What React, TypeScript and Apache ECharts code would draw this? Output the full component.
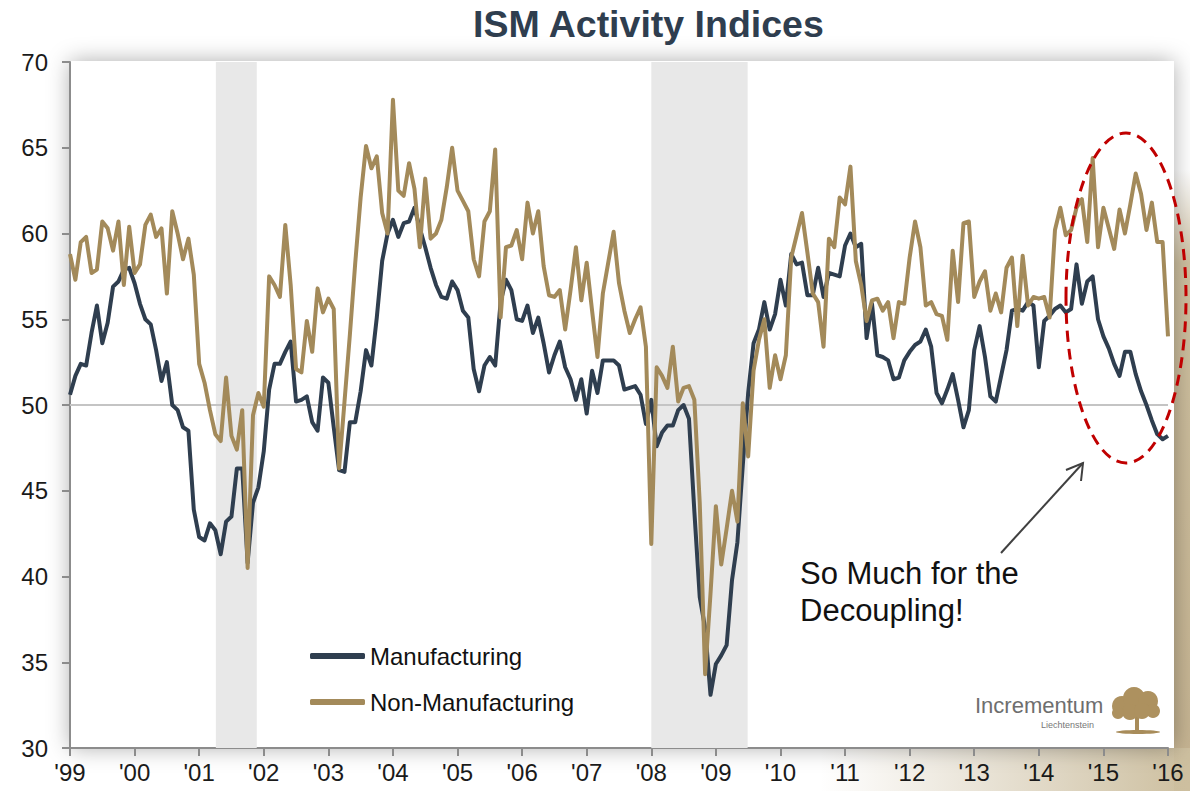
import React, { useEffect, useRef } from 'react';
import * as echarts from 'echarts';

// Tick labels for the x axis (one per January, Jan 1999 = month index 0)
const yearLabels = ["'99", "'00", "'01", "'02", "'03", "'04", "'05", "'06", "'07", "'08", "'09", "'10", "'11", "'12", "'13", "'14", "'15", "'16"];

// ISM Manufacturing, monthly Jan 1999 .. Jan 2016
const manufacturing = [
  50.6, 51.7, 52.4, 52.3, 54.2, 55.8, 53.6, 54.8, 56.9, 57.2, 57.9, 58.0,
  57.1, 55.9, 55.0, 54.7, 53.2, 51.4, 52.5, 50.0, 49.7, 48.7, 48.5, 43.9,
  42.3, 42.1, 43.1, 42.7, 41.3, 43.2, 43.5, 46.3, 46.3, 40.8, 44.3, 45.2,
  47.3, 50.9, 52.4, 52.4, 53.1, 53.7, 50.2, 50.3, 50.5, 49.0, 48.5, 51.6,
  51.3, 48.7, 46.2, 46.1, 49.0, 49.0, 50.8, 53.2, 52.3, 55.1, 58.4, 60.0,
  60.8, 59.8, 60.6, 60.7, 61.5, 60.3, 59.2, 58.0, 57.0, 56.3, 56.2, 57.2,
  56.7, 55.5, 55.1, 52.1, 50.8, 52.3, 52.8, 52.3, 56.0, 57.3, 56.7, 55.0,
  54.9, 55.8, 54.2, 55.1, 53.6, 51.9, 52.9, 53.7, 52.2, 51.5, 50.3, 51.5,
  49.5, 52.0, 50.7, 52.6, 52.6, 52.6, 52.3, 50.9, 51.0, 51.1, 50.6, 48.9,
  50.3, 47.6, 48.4, 48.8, 48.8, 49.7, 50.0, 49.2, 43.8, 38.8, 37.0, 33.1,
  34.9, 35.4, 36.0, 39.8, 42.0, 46.5, 50.7, 53.6, 54.4, 56.0, 54.4, 55.3,
  57.3, 55.8, 58.8, 58.2, 58.3, 56.4, 56.4, 58.0, 56.3, 57.7, 57.6, 57.5,
  59.3, 60.0, 59.2, 59.4, 53.9, 55.9, 52.9, 52.8, 52.6, 51.5, 51.6, 52.6,
  53.1, 53.5, 53.7, 54.4, 53.4, 50.7, 50.1, 50.9, 51.8, 50.3, 48.7, 49.7,
  53.2, 54.6, 52.8, 50.5, 50.2, 51.7, 53.2, 55.5, 55.6, 55.5, 56.0, 55.8,
  52.2, 54.9, 55.2, 55.6, 55.8, 55.4, 55.6, 58.2, 55.9, 57.2, 57.5, 55.0,
  54.0, 53.3, 52.4, 51.7, 53.1, 53.1, 51.8, 50.8, 50.0, 49.1, 48.3, 48.0,
  48.2,
];

// ISM Non-Manufacturing, monthly Jan 1999 .. Jan 2016
const nonManufacturing = [
  58.8, 57.3, 59.5, 59.8, 57.7, 57.9, 60.7, 60.3, 59.0, 60.7, 57.0, 60.4,
  57.7, 58.2, 60.5, 61.1, 59.8, 60.3, 56.5, 61.3, 60.0, 58.5, 59.7, 57.6,
  52.4, 51.3, 49.7, 48.3, 47.9, 51.6, 48.2, 47.4, 49.7, 40.5, 49.4, 50.7,
  49.9, 57.5, 57.0, 56.3, 60.5, 57.0, 52.1, 51.9, 54.9, 53.1, 56.8, 55.4,
  56.2, 55.6, 46.3, 50.2, 54.1, 58.3, 62.1, 65.1, 63.8, 64.5, 61.2, 60.0,
  67.8, 62.5, 62.2, 64.1, 62.6, 59.2, 63.2, 59.7, 60.0, 60.8, 62.7, 65.0,
  62.5, 61.9, 61.3, 58.5, 57.5, 60.7, 61.3, 64.9, 55.1, 59.2, 59.3, 60.2,
  58.5, 61.8, 60.0, 61.3, 58.1, 56.4, 56.3, 56.7, 54.4, 56.7, 59.2, 56.1,
  58.3, 55.5, 52.8, 56.5, 58.3, 60.1, 57.1, 55.5, 54.2, 55.0, 55.7, 53.4,
  41.9, 52.2, 51.7, 51.0, 53.4, 50.2, 51.0, 51.1, 50.3, 44.3, 34.3, 39.0,
  44.1, 40.7, 42.8, 45.0, 43.2, 50.1, 47.0, 52.0, 53.8, 55.0, 51.0, 52.9,
  51.5, 52.9, 58.6, 59.9, 61.2, 58.9, 56.5, 56.0, 53.4, 59.7, 59.2, 62.1,
  61.7, 63.9, 58.4, 57.0, 54.9, 56.1, 56.2, 55.5, 56.0, 53.9, 56.0, 55.9,
  58.6, 60.7, 59.2, 55.8, 56.0, 55.3, 55.2, 53.8, 59.0, 56.0, 60.6, 60.7,
  56.3, 57.2, 57.8, 55.5, 56.5, 55.4, 58.0, 58.6, 54.6, 58.7, 55.8, 56.3,
  56.2, 56.3, 55.1, 60.2, 61.5, 59.9, 60.2, 61.5, 62.0, 59.5, 64.4, 59.2,
  61.5, 60.3, 59.1, 61.4, 60.0, 61.7, 63.5, 62.3, 60.2, 61.8, 59.5, 59.5,
  54.0,
];

// Shaded recession periods, as month indices (Jan 1999 = 0)
const recessions: [number, number][] = [
  [27.1, 34.7],
  [108.0, 125.9],
];

const FONT = "'Liberation Sans', Arial, Helvetica, sans-serif";
const DARK = '#2f3e4f';
const TAN = '#a38a5a';

export default function App() {
  const ref = useRef<HTMLDivElement>(null);

  useEffect(() => {
    if (!ref.current) return;
    const chart = echarts.init(ref.current, null, { renderer: 'svg' });
    const pairs = (arr: number[]) => arr.map((v, i) => [i, v]);
    const lastIndex = (yearLabels.length - 1) * 12;

    chart.setOption({
      animation: false,
      backgroundColor: '#ffffff',
      title: {
        text: 'ISM Activity Indices',
        left: 473,
        top: 5,
        padding: 0,
        textStyle: { fontFamily: FONT, fontSize: 37.5, fontWeight: 'bold', color: DARK },
      },
      legend: {
        data: ['Manufacturing', 'Non-Manufacturing'],
        orient: 'vertical',
        left: 310,
        top: 643,
        padding: 0,
        itemWidth: 55,
        itemHeight: 6,
        itemGap: 20,
        icon: 'roundRect',
        selectedMode: false,
        textStyle: { fontFamily: FONT, fontSize: 24, color: '#111111', lineHeight: 26 },
      },
      grid: { left: 70, right: 22, top: 62, bottom: 43, containLabel: false },
      xAxis: {
        type: 'value',
        min: 0,
        max: lastIndex,
        interval: 12,
        axisLine: { show: true, lineStyle: { color: '#8c8c8c', width: 2 } },
        axisTick: { show: true, length: 8, lineStyle: { color: '#8c8c8c', width: 2 } },
        splitLine: { show: false },
        axisLabel: {
          margin: 12,
          fontFamily: FONT,
          fontSize: 24,
          color: '#1a1a1a',
          showMinLabel: true,
          showMaxLabel: true,
          formatter: (v: number) => yearLabels[Math.round(v / 12)] ?? '',
        },
      },
      yAxis: {
        type: 'value',
        min: 30,
        max: 70,
        interval: 5,
        axisLine: { show: true, lineStyle: { color: '#8c8c8c', width: 2 } },
        axisTick: { show: true, length: 8, lineStyle: { color: '#8c8c8c', width: 2 } },
        splitLine: { show: false },
        axisLabel: { margin: 22, fontFamily: FONT, fontSize: 24, color: '#1a1a1a' },
      },
      series: [
        {
          name: 'Manufacturing',
          type: 'line',
          data: pairs(manufacturing),
          showSymbol: false,
          symbol: 'none',
          z: 3,
          lineStyle: { color: DARK, width: 4, join: 'round' },
          itemStyle: { color: DARK },
          markArea: {
            silent: true,
            z: 1,
            itemStyle: { color: '#e8e8e8' },
            data: recessions.map(([a, b]) => [{ xAxis: a }, { xAxis: b }]),
          },
          markLine: {
            silent: true,
            z: 2,
            symbol: ['none', 'none'],
            label: { show: false },
            lineStyle: { color: '#c4c4c4', width: 2, type: 'solid' },
            data: [{ yAxis: 50 }],
          },
        },
        {
          name: 'Non-Manufacturing',
          type: 'line',
          data: pairs(nonManufacturing),
          showSymbol: false,
          symbol: 'none',
          z: 4,
          lineStyle: { color: TAN, width: 4, join: 'round' },
          itemStyle: { color: TAN },
        },
      ],
      graphic: [
        {
          type: 'rect',
          z: -20,
          silent: true,
          shape: { x: 1174, y: 170, width: 16, height: 621 },
          style: {
            fill: new echarts.graphic.LinearGradient(0, 0, 0, 1, [
              { offset: 0, color: 'rgba(205,192,165,0)' },
              { offset: 0.15, color: '#cdbf9f' },
              { offset: 1, color: '#c4b290' },
            ]),
          },
        },
        {
          type: 'rect',
          z: -20,
          silent: true,
          shape: { x: 820, y: 748, width: 370, height: 43 },
          style: {
            fill: new echarts.graphic.LinearGradient(0, 0, 1, 0, [
              { offset: 0, color: 'rgba(205,192,165,0)' },
              { offset: 1, color: '#cdbf9f' },
            ]),
          },
        },
        {
          type: 'rect',
          z: -10,
          silent: true,
          shape: { x: 70, y: 61, width: 1104, height: 687 },
          style: { fill: '#ffffff', shadowBlur: 22, shadowColor: 'rgba(0,0,0,0.32)' },
        },
        {
          type: 'ellipse',
          z: 100,
          silent: true,
          shape: { cx: 1126, cy: 298, rx: 60, ry: 165 },
          style: { fill: 'none', stroke: '#c00000', lineWidth: 3, lineDash: [11, 7] },
        },
        {
          type: 'line',
          z: 100,
          silent: true,
          shape: { x1: 1001, y1: 553, x2: 1083, y2: 463 },
          style: { stroke: '#404040', lineWidth: 2 },
        },
        {
          type: 'polyline',
          z: 100,
          silent: true,
          shape: { points: [[1066, 470], [1083, 463], [1081, 481]] },
          style: { stroke: '#404040', lineWidth: 2, fill: 'none' },
        },
        {
          type: 'text',
          z: 100,
          silent: true,
          x: 800,
          y: 555,
          style: {
            text: 'So Much for the\nDecoupling!',
            fontFamily: FONT,
            fontSize: 31,
            lineHeight: 37,
            fill: '#111111',
            verticalAlign: 'top',
          },
        },
        {
          type: 'text',
          z: 100,
          silent: true,
          x: 975,
          y: 694,
          style: { text: 'Incrementum', fontFamily: FONT, fontSize: 22, fill: '#6e6e6e', verticalAlign: 'top' },
        },
        {
          type: 'text',
          z: 100,
          silent: true,
          x: 1041,
          y: 720,
          style: { text: 'Liechtenstein', fontFamily: FONT, fontSize: 9, fill: '#777777', verticalAlign: 'top' },
        },
        {
          type: 'group',
          z: 100,
          silent: true,
          children: [
            { type: 'rect', z: 100, shape: { x: 1135, y: 710, width: 4, height: 21 }, style: { fill: '#a88c5a' } },
            { type: 'ellipse', z: 100, shape: { cx: 1138, cy: 732, rx: 22, ry: 2 }, style: { fill: '#a88c5a' } },
            { type: 'circle', z: 100, shape: { cx: 1122, cy: 706, r: 10 }, style: { fill: '#ad915f' } },
            { type: 'circle', z: 100, shape: { cx: 1134, cy: 698, r: 11 }, style: { fill: '#ad915f' } },
            { type: 'circle', z: 100, shape: { cx: 1148, cy: 701, r: 10 }, style: { fill: '#ad915f' } },
            { type: 'circle', z: 100, shape: { cx: 1153, cy: 711, r: 7 }, style: { fill: '#ad915f' } },
            { type: 'circle', z: 100, shape: { cx: 1130, cy: 712, r: 8 }, style: { fill: '#ad915f' } },
            { type: 'circle', z: 100, shape: { cx: 1142, cy: 711, r: 8 }, style: { fill: '#ad915f' } },
            { type: 'circle', z: 100, shape: { cx: 1118, cy: 713, r: 6 }, style: { fill: '#ad915f' } },
          ],
        },
      ],
    });

    return () => chart.dispose();
  }, []);

  return (
    <div
      ref={ref}
      style={{ position: 'fixed', left: 0, top: 0, width: 1190, height: 791 }}
    />
  );
}
